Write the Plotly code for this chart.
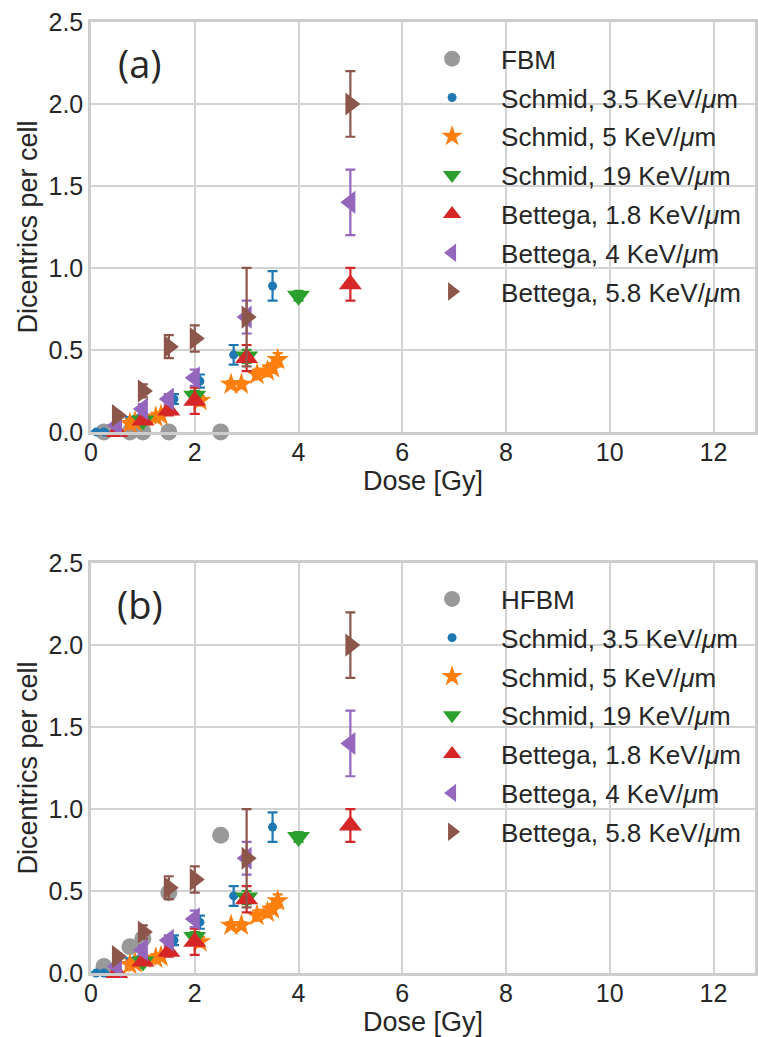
import plotly.graph_objects as go

# ---- data ----
fbm_x = [0.25, 0.75, 1.0, 1.5, 2.5]
fbm_y = [0.0, 0.0, 0.0, 0.0, 0.0]
hfbm_y = [0.04, 0.16, 0.21, 0.49, 0.84]

s35_x = [0.1, 0.25, 0.75, 0.9, 1.6, 2.1, 2.75, 3.5]
s35_y = [0.0, 0.0, 0.07, 0.08, 0.2, 0.31, 0.47, 0.89]
s35_e = [0.005, 0.005, 0.02, 0.02, 0.03, 0.04, 0.06, 0.09]

s5_x = [0.75, 0.85, 1.25, 1.35, 2.1, 2.7, 2.9, 3.2, 3.4, 3.5, 3.6]
s5_y = [0.05, 0.06, 0.09, 0.1, 0.19, 0.29, 0.29, 0.35, 0.37, 0.39, 0.44]
s5_e = [0.01, 0.01, 0.02, 0.02, 0.03, 0.02, 0.02, 0.03, 0.03, 0.03, 0.04]

s19_x = [1, 2, 3, 4]
s19_y = [0.07, 0.22, 0.46, 0.83]
s19_e = [0.02, 0.03, 0.04, 0.03]

b18_x = [0.5, 1, 1.5, 2, 3, 5]
b18_y = [0.0, 0.07, 0.13, 0.19, 0.45, 0.9]
b18_e = [0.01, 0.02, 0.03, 0.08, 0.08, 0.1]

b4_x = [0.5, 1, 1.5, 2, 3, 5]
b4_y = [0.04, 0.14, 0.2, 0.33, 0.7, 1.4]
b4_e = [0.02, 0.03, 0.03, 0.05, 0.1, 0.2]

b58_x = [0.5, 1, 1.5, 2, 3, 5]
b58_y = [0.1, 0.25, 0.52, 0.57, 0.7, 2.0]
b58_e = [0.02, 0.04, 0.07, 0.08, 0.3, 0.2]

x_ticks = [0, 2, 4, 6, 8, 10, 12]
y_ticks = [0.0, 0.5, 1.0, 1.5, 2.0, 2.5]

FONT = "Liberation Sans, Arial, sans-serif"
series = [
    ("Schmid, 3.5 KeV/<i>μ</i>m", s35_x, s35_y, s35_e, "#1f77b4", "circle", 9),
    ("Schmid, 5 KeV/<i>μ</i>m", s5_x, s5_y, s5_e, "#ff7f0e", "star", 17),
    ("Schmid, 19 KeV/<i>μ</i>m", s19_x, s19_y, s19_e, "#2ca02c", "triangle-down", 20),
    ("Bettega, 1.8 KeV/<i>μ</i>m", b18_x, b18_y, b18_e, "#d62728", "triangle-up", 20),
    ("Bettega, 4 KeV/<i>μ</i>m", b4_x, b4_y, b4_e, "#9467bd", "triangle-left", 20),
    ("Bettega, 5.8 KeV/<i>μ</i>m", b58_x, b58_y, b58_e, "#8c564b", "triangle-right", 20),
]

fig = go.Figure()
for k, (gname, gy, xa, ya, leg) in enumerate([
    ("FBM", fbm_y, "x", "y", "legend"),
    ("HFBM", hfbm_y, "x2", "y2", "legend2"),
]):
    fig.add_trace(go.Scatter(
        x=fbm_x, y=gy, mode="markers", name=gname, xaxis=xa, yaxis=ya,
        legend=leg, legendgroup=f"g{k}0",
        marker=dict(color="#999999", size=17, symbol="circle"),
        cliponaxis=False,
    ))
    for j, (name, sx, sy, se, col, sym, sz) in enumerate(series):
        fig.add_trace(go.Scatter(
            x=sx, y=sy, mode="markers", name=name, xaxis=xa, yaxis=ya,
            legend=leg, legendgroup=f"g{k}{j+1}",
            marker=dict(color=col, size=sz, symbol=sym, line=dict(width=0)),
            error_y=dict(type="data", array=se, visible=True, color=col,
                         thickness=2.2, width=5),
            cliponaxis=False,
        ))

axis_common = dict(
    showgrid=True, gridcolor="#d3d3d3", gridwidth=1.5,
    showline=True, linecolor="#cccccc", linewidth=2.5, mirror=True,
    zeroline=False, ticks="",
    tickfont=dict(family=FONT, size=25, color="#262626"),
)
title_font = dict(family=FONT, size=27, color="#262626")
legend_font = dict(family=FONT, size=26, color="#262626")
xdom = [0, 1]
fig.update_layout(
    width=758, height=1037,
    margin=dict(l=91, r=0, t=22, b=64),
    paper_bgcolor="white", plot_bgcolor="white",
    font=dict(family=FONT, color="#262626"),
    xaxis=dict(axis_common, domain=xdom, anchor="y", range=[0, 12.8],
               tickvals=x_ticks, ticklabelstandoff=-4,
               title=dict(text="Dose [Gy]", font=title_font, standoff=4)),
    yaxis=dict(axis_common, domain=[0.569, 1.0], anchor="x", range=[0, 2.5],
               tickvals=y_ticks, tickformat=".1f",
               title=dict(text="Dicentrics per cell", font=title_font, standoff=4)),
    xaxis2=dict(axis_common, domain=xdom, anchor="y2", range=[0, 12.8],
                tickvals=x_ticks, ticklabelstandoff=-4,
                title=dict(text="Dose [Gy]", font=title_font, standoff=4)),
    yaxis2=dict(axis_common, domain=[0.0, 0.431], anchor="x2", range=[0, 2.5],
                tickvals=y_ticks, tickformat=".1f",
                title=dict(text="Dicentrics per cell", font=title_font, standoff=4)),
    legend=dict(x=0.47, y=0.986, xanchor="left", yanchor="top",
                bgcolor="rgba(255,255,255,0)", font=legend_font,
                tracegroupgap=2, itemwidth=88),
    legend2=dict(x=0.47, y=0.418, xanchor="left", yanchor="top",
                 bgcolor="rgba(255,255,255,0)", font=legend_font,
                 tracegroupgap=2, itemwidth=88),
    showlegend=True,
)

for txt, xref, yref in [("(a)", "x domain", "y domain"), ("(b)", "x2 domain", "y2 domain")]:
    fig.add_annotation(
        text=txt, x=0.074, y=0.9, xref=xref, yref=yref, showarrow=False,
        xanchor="center", yanchor="middle",
        font=dict(family="Open Sans, sans-serif", size=38, color="#262626"),
    )

fig.write_html("out.html", config={"displayModeBar": False},
               post_script="document.body.style.margin='0';")
